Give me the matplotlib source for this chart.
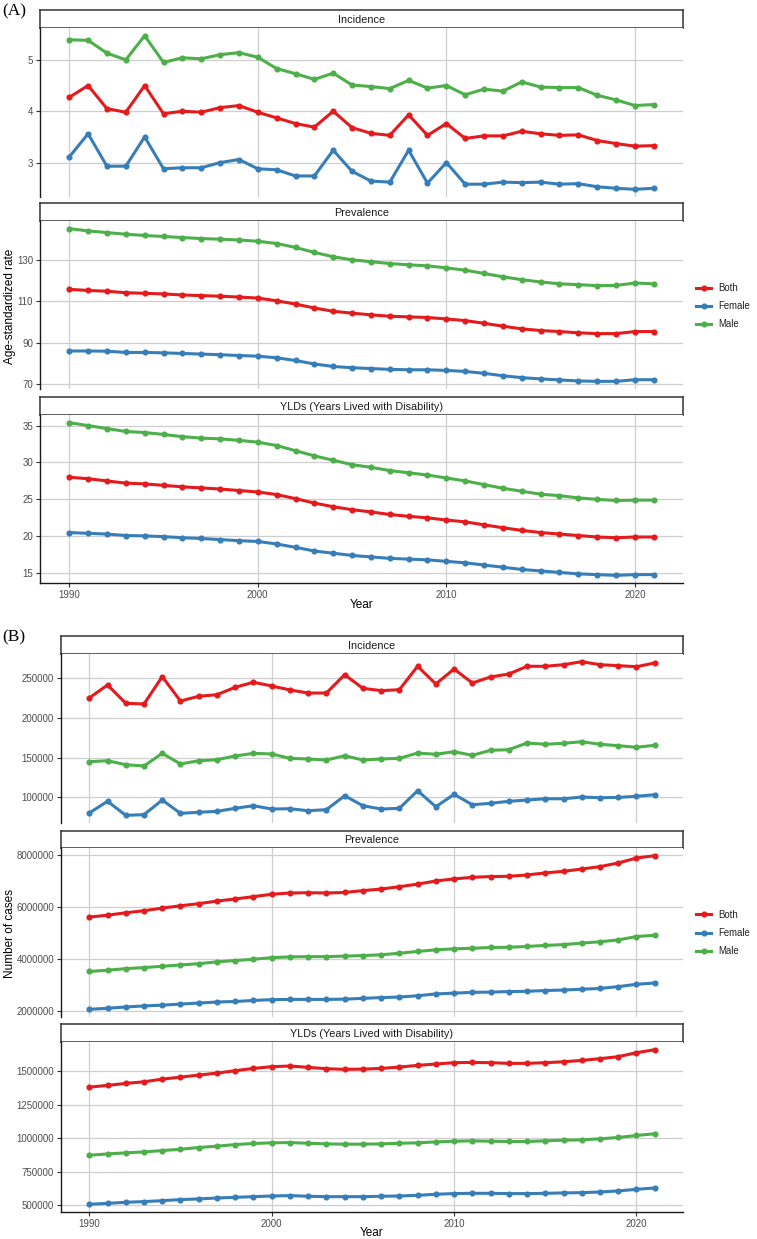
import numpy as np
import matplotlib
matplotlib.use('Agg')
from matplotlib import pyplot as plt
from matplotlib.lines import Line2D
from matplotlib.ticker import FuncFormatter

plt.rcParams['font.family'] = ['Liberation Sans', 'DejaVu Sans']

years = list(range(1990, 2022))
sexes = ['Both', 'Female', 'Male']
sex_colors = {'Both': '#E41A1C', 'Female': '#377EB8', 'Male': '#4DAF4A'}
facet_titles = ['Incidence', 'Prevalence', 'YLDs (Years Lived with Disability)']

# (A) age-standardized rate
a_inc_both = [4.27, 4.50, 4.05, 3.98, 4.50, 3.95, 4.00, 3.98, 4.07, 4.11, 3.98, 3.87, 3.76, 3.69, 4.00, 3.68,
              3.57, 3.53, 3.93, 3.53, 3.76, 3.47, 3.52, 3.52, 3.61, 3.56, 3.53, 3.54, 3.43, 3.37, 3.32, 3.33]
a_inc_female = [3.11, 3.56, 2.93, 2.93, 3.50, 2.88, 2.90, 2.90, 3.00, 3.06, 2.88, 2.86, 2.74, 2.74, 3.24, 2.83,
                2.64, 2.62, 3.24, 2.60, 3.00, 2.58, 2.58, 2.62, 2.61, 2.62, 2.58, 2.59, 2.53, 2.50, 2.48, 2.50]
a_inc_male = [5.39, 5.38, 5.13, 5.00, 5.47, 4.95, 5.04, 5.02, 5.10, 5.14, 5.05, 4.83, 4.73, 4.62, 4.74, 4.51,
              4.48, 4.44, 4.60, 4.45, 4.50, 4.32, 4.43, 4.39, 4.57, 4.47, 4.46, 4.46, 4.31, 4.22, 4.11, 4.13]

a_prev_both = [115.7, 115.2, 114.8, 114.1, 113.8, 113.5, 113.0, 112.7, 112.4, 112.0, 111.5, 110.2, 108.6, 106.7,
               105.1, 104.2, 103.4, 102.7, 102.4, 102.1, 101.4, 100.6, 99.3, 97.9, 96.6, 95.8, 95.3, 94.7, 94.3,
               94.3, 95.3, 95.3]
a_prev_female = [85.9, 85.9, 85.8, 85.2, 85.2, 85.0, 84.7, 84.4, 84.1, 83.7, 83.4, 82.6, 81.3, 79.6, 78.4, 77.8,
                 77.4, 77.0, 76.8, 76.8, 76.5, 76.0, 75.1, 73.9, 73.0, 72.4, 71.9, 71.4, 71.2, 71.2, 72.0, 72.0]
a_prev_male = [145.1, 144.0, 143.2, 142.4, 141.8, 141.3, 140.8, 140.3, 140.0, 139.6, 139.0, 137.9, 136.0, 133.6,
               131.5, 130.0, 129.1, 128.2, 127.6, 127.1, 126.1, 125.0, 123.4, 121.8, 120.4, 119.3, 118.4, 118.0,
               117.5, 117.6, 118.8, 118.4]

a_yld_both = [28.0, 27.8, 27.5, 27.2, 27.1, 26.9, 26.7, 26.55, 26.4, 26.2, 26.0, 25.65, 25.1, 24.5, 24.0, 23.6,
              23.3, 22.95, 22.7, 22.5, 22.2, 21.95, 21.55, 21.15, 20.8, 20.5, 20.3, 20.1, 19.9, 19.8, 19.9, 19.9]
a_yld_female = [20.5, 20.4, 20.3, 20.1, 20.05, 19.95, 19.8, 19.7, 19.55, 19.4, 19.3, 18.95, 18.5, 18.0, 17.7, 17.4,
                17.2, 17.0, 16.9, 16.8, 16.6, 16.4, 16.1, 15.8, 15.5, 15.3, 15.1, 14.9, 14.8, 14.7, 14.8, 14.8]
a_yld_male = [35.4, 35.0, 34.6, 34.2, 34.06, 33.8, 33.5, 33.3, 33.2, 33.0, 32.75, 32.3, 31.6, 30.9, 30.3, 29.7,
              29.35, 28.9, 28.6, 28.3, 27.9, 27.5, 27.0, 26.5, 26.1, 25.7, 25.5, 25.2, 25.0, 24.85, 24.9, 24.9]

# (B) number of cases
b_inc_both = [224900, 241200, 218200, 217300, 251700, 221100, 227000, 229000, 238300, 244600, 240000, 235000,
              231100, 231100, 254200, 237000, 234100, 235300, 264700, 242500, 261300, 243700, 251300, 255000,
              264700, 264700, 266700, 270500, 266700, 265500, 264200, 268900]
b_inc_female = [80300, 95000, 77400, 78200, 96600, 79900, 81200, 82400, 86200, 89500, 85300, 85700, 83200, 84500,
                102000, 89500, 85300, 86200, 108300, 88200, 103800, 90700, 92500, 95000, 96600, 98200, 98200,
                100400, 99500, 99900, 101300, 103300]
b_inc_male = [144800, 146000, 141000, 139400, 155300, 141900, 146000, 147300, 152000, 155300, 154500, 149000,
              148200, 146900, 152300, 146900, 148200, 149000, 155700, 154100, 157400, 152800, 159100, 159900,
              168300, 166700, 167900, 169900, 166700, 164900, 162900, 165400]

b_prev_both = [5615000, 5690000, 5780000, 5860000, 5960000, 6050000, 6130000, 6230000, 6310000, 6400000,
               6490000, 6540000, 6550000, 6540000, 6560000, 6630000, 6690000, 6780000, 6880000, 7000000,
               7080000, 7140000, 7170000, 7180000, 7230000, 7310000, 7370000, 7460000, 7550000, 7690000,
               7880000, 7970000]
b_prev_female = [2080000, 2120000, 2170000, 2210000, 2240000, 2280000, 2320000, 2360000, 2380000, 2420000,
                 2450000, 2460000, 2460000, 2460000, 2470000, 2500000, 2530000, 2550000, 2600000, 2670000,
                 2700000, 2730000, 2740000, 2760000, 2770000, 2800000, 2820000, 2850000, 2880000, 2950000,
                 3040000, 3090000]
b_prev_male = [3530000, 3580000, 3640000, 3680000, 3730000, 3780000, 3830000, 3900000, 3950000, 4000000,
               4060000, 4090000, 4100000, 4100000, 4120000, 4140000, 4170000, 4230000, 4300000, 4360000,
               4400000, 4420000, 4450000, 4460000, 4490000, 4530000, 4560000, 4620000, 4670000, 4740000,
               4870000, 4920000]

b_yld_both = [1382000, 1395000, 1410000, 1422000, 1442000, 1457000, 1472000, 1487000, 1505000, 1522000,
              1535000, 1540000, 1530000, 1520000, 1515000, 1517000, 1522000, 1532000, 1545000, 1555000,
              1565000, 1567000, 1565000, 1560000, 1560000, 1565000, 1572000, 1582000, 1595000, 1610000,
              1640000, 1662000]
b_yld_female = [505000, 512000, 520000, 525000, 532000, 540000, 545000, 552000, 557000, 562000, 567000, 570000,
                565000, 562000, 562000, 562000, 565000, 567000, 572000, 580000, 585000, 587000, 587000, 585000,
                585000, 587000, 590000, 592000, 597000, 605000, 617000, 627000]
b_yld_male = [872000, 882000, 890000, 897000, 907000, 917000, 930000, 940000, 952000, 960000, 965000, 967000,
              962000, 957000, 955000, 955000, 957000, 962000, 965000, 972000, 977000, 980000, 977000, 975000,
              975000, 980000, 985000, 987000, 995000, 1005000, 1020000, 1033000]

a_ticks = [[3, 4, 5], [70, 90, 110, 130], [15, 20, 25, 30, 35]]
b_ticks = [[100000, 150000, 200000, 250000], [2000000, 4000000, 6000000, 8000000],
           [500000, 750000, 1000000, 1250000, 1500000]]
x_ticks = [1990, 2000, 2010, 2020]

W, H = 757, 1239
fig = plt.figure(figsize=(W / 100, H / 100), dpi=100)


def px_axes(x0, y0, x1, y1):
    return fig.add_axes([x0 / W, 1 - y1 / H, (x1 - x0) / W, (y1 - y0) / H])


def draw_facet(x0, x1, strip_y, panel_y, title, series, yticks, bottom):
    # strip
    sax = px_axes(x0, strip_y[0], x1, strip_y[1])
    sax.set_xticks([])
    sax.set_yticks([])
    for s in sax.spines.values():
        s.set_color('#333333')
        s.set_linewidth(1.1)
    sax.text(0.5, 0.45, title, ha='center', va='center', fontsize=7.8, color='#1a1a1a',
             transform=sax.transAxes)
    # panel
    ax = px_axes(x0, panel_y[0], x1, panel_y[1])
    allv = np.concatenate([np.array(v, dtype=float) for v in series.values()])
    lo, hi = allv.min(), allv.max()
    pad = (hi - lo) * 0.05
    ax.set_ylim(lo - pad, hi + pad)
    ax.set_xlim(1990 - 1.55, 2021 + 1.55)
    for sex in sexes:
        ax.plot(years, series[sex], color=sex_colors[sex], lw=2.2, marker='o', ms=3.4,
                solid_joinstyle='round', zorder=3)
    ax.set_yticks(yticks)
    ax.set_xticks(x_ticks)
    ax.yaxis.set_major_formatter(FuncFormatter(lambda v, p: f'{v:.0f}'))
    ax.grid(True, color='#cfcfcf', lw=0.9)
    ax.set_axisbelow(True)
    ax.spines['top'].set_visible(False)
    ax.spines['right'].set_visible(False)
    ax.spines['left'].set_color('#1a1a1a')
    ax.spines['left'].set_linewidth(1.0)
    ax.tick_params(axis='y', length=3, width=0.8, color='#333333', labelsize=7,
                   labelcolor='#4d4d4d', pad=2)
    if bottom:
        ax.spines['bottom'].set_color('#1a1a1a')
        ax.spines['bottom'].set_linewidth(1.0)
        ax.tick_params(axis='x', length=3, width=0.8, color='#333333', labelsize=7,
                       labelcolor='#4d4d4d', pad=2)
    else:
        ax.spines['bottom'].set_visible(False)
        ax.tick_params(axis='x', length=0, labelbottom=False)
    return ax


a_series = [
    {'Both': a_inc_both, 'Female': a_inc_female, 'Male': a_inc_male},
    {'Both': a_prev_both, 'Female': a_prev_female, 'Male': a_prev_male},
    {'Both': a_yld_both, 'Female': a_yld_female, 'Male': a_yld_male},
]
b_series = [
    {'Both': b_inc_both, 'Female': b_inc_female, 'Male': b_inc_male},
    {'Both': b_prev_both, 'Female': b_prev_female, 'Male': b_prev_male},
    {'Both': b_yld_both, 'Female': b_yld_female, 'Male': b_yld_male},
]

a_strips = [(10, 28), (203, 221), (397, 415)]
a_panels = [(28, 197), (221, 389), (415, 583)]
b_strips = [(636, 654), (831, 848), (1024, 1042)]
b_panels = [(654, 823), (848, 1017), (1042, 1212)]

for i in range(3):
    draw_facet(40, 683, a_strips[i], a_panels[i], facet_titles[i], a_series[i], a_ticks[i], i == 2)
    draw_facet(61, 683, b_strips[i], b_panels[i], facet_titles[i], b_series[i], b_ticks[i], i == 2)

# titles and labels
fig.text(2 / W, 1 - 11 / H, '(A)', fontsize=12.5, family='Liberation Serif', ha='left', va='center')
fig.text(2 / W, 1 - 637 / H, '(B)', fontsize=12.5, family='Liberation Serif', ha='left', va='center')
fig.text(10 / W, 1 - 306 / H, 'Age-standardized rate', rotation=90, fontsize=8.5, ha='center', va='center')
fig.text(10 / W, 1 - 933 / H, 'Number of cases', rotation=90, fontsize=8.5, ha='center', va='center')
fig.text(361.5 / W, 1 - 605 / H, 'Year', fontsize=8.5, ha='center', va='center')
fig.text(372 / W, 1 - 1233 / H, 'Year', fontsize=8.5, ha='center', va='center')

handles = [Line2D([0], [0], color=sex_colors[s], lw=2.2, marker='o', ms=3.4) for s in sexes]
for cy in (306, 933):
    fig.legend(handles, sexes, loc='center left', bbox_to_anchor=(696 / W, 1 - cy / H), frameon=False,
               fontsize=6.9, handlelength=1.6, handletextpad=0.7, labelspacing=0.85, labelcolor='#222222',
               borderaxespad=0, borderpad=0)

fig.savefig('out.png', dpi=100)
